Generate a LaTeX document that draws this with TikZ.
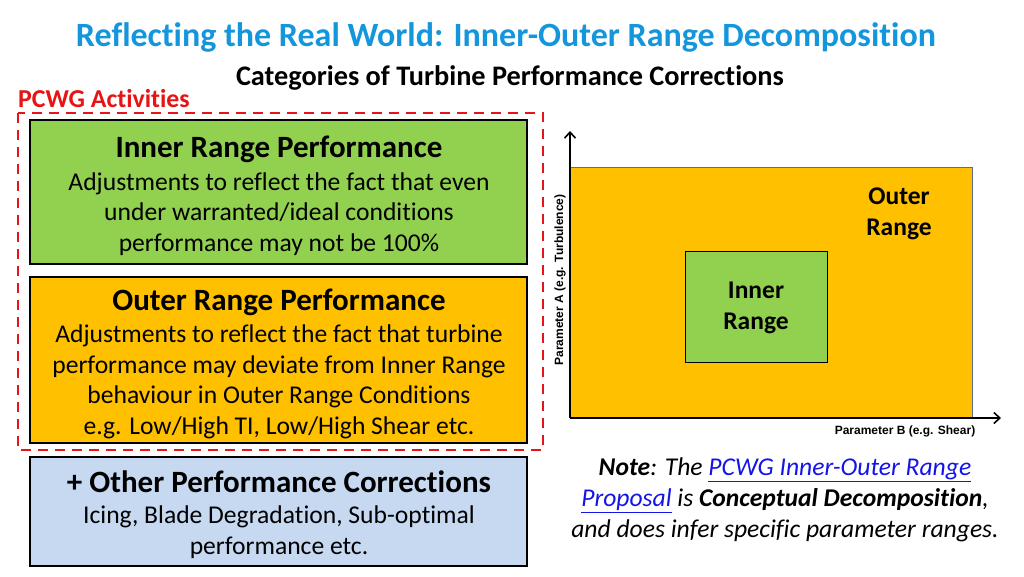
\documentclass[tikz,border=0pt]{standalone}
\usepackage{fontspec}
\setmainfont{Carlito}[Ligatures=NoCommon]
\newfontfamily\arialfont{Liberation Sans}
\usetikzlibrary{arrows.meta}
\definecolor{titleblue}{RGB}{20,150,220}
\definecolor{pcwgred}{RGB}{230,20,20}
\definecolor{boxgreen}{RGB}{146,208,80}
\definecolor{boxorange}{RGB}{255,192,0}
\definecolor{boxblue}{RGB}{198,217,241}
\definecolor{linkblue}{RGB}{20,20,230}
\definecolor{edgegrey}{RGB}{90,110,140}
\tikzset{
  catbox/.style={draw=black, line width=2pt, inner sep=0pt},
  cattitle/.style={font=\bfseries\fontsize{31}{34}\selectfont, anchor=center},
  catbody/.style={font=\fontsize{25.6}{30.5}\selectfont, align=center, anchor=center},
  axis/.style={line width=1.6pt, -{Straight Barb[length=6pt,width=11pt]}},
  rangelabel/.style={font=\bfseries\fontsize{25.5}{31}\selectfont, align=center},
  axlabel/.style={font=\arialfont\bfseries\fontsize{12}{13}\selectfont}
}
\begin{document}
\begin{tikzpicture}[x=1pt,y=-1pt]
\useasboundingbox (0,0) rectangle (1024,576);
% titles
\node[font=\bfseries\fontsize{34}{37}\selectfont, text=titleblue] (title) at (506,37) {Reflecting the Real World: Inner-Outer Range Decomposition};
\node[font=\bfseries\fontsize{28.3}{30}\selectfont] (sub) at (510,78) {Categories of Turbine Performance Corrections};
\node[font=\bfseries\fontsize{25.8}{28}\selectfont, text=pcwgred, anchor=west, inner sep=0pt] (pcwg) at (18,99) {PCWG Activities};
% dashed frame
\draw[pcwgred, line width=2.6pt, dash pattern=on 10pt off 7pt] (18,113) rectangle (543,450);
% boxes
\draw[catbox, fill=boxgreen] (30,120) rectangle (527,264);
\draw[catbox, fill=boxorange] (30,277) rectangle (527,443);
\draw[catbox, fill=boxblue] (30,457) rectangle (527,566);
\node[cattitle] (t1) at (279,149.5) {Inner Range Performance};
\node[catbody] (b1) at (279,214) {Adjustments to reflect the fact that even\\under warranted/ideal conditions\\performance may not be 100\%};
\node[cattitle] (t2) at (279,302) {Outer Range Performance};
\node[catbody] (b2) at (279,382) {Adjustments to reflect the fact that turbine\\performance may deviate from Inner Range\\behaviour in Outer Range Conditions\\e.g. Low/High TI, Low/High Shear etc.};
\node[cattitle] (t3) at (279,481.5) {+ Other Performance Corrections};
\node[catbody] (b3) at (279,532) {Icing, Blade Degradation, Sub-optimal\\performance etc.};
% chart
\fill[boxorange] (571,167) rectangle (972,418);
\draw[edgegrey, line width=0.8pt] (571,167) -- (972,167) -- (972,418);
\node[draw=black, line width=1pt, fill=boxgreen, minimum width=142pt, minimum height=111pt, inner sep=0pt] (inner) at (756,306.5) {};
\coordinate (origin) at (570,418);
\coordinate (ytop) at (570,131);
\coordinate (xend) at (1001,418);
\draw[axis] (origin) -- (ytop);
\draw[axis] (origin) -- (xend);
\node[rangelabel] (outer) at (899,213.5) {Outer\\Range};
\node[rangelabel] (innerl) at (756,308) {Inner\\Range};
\node[axlabel, rotate=90] (ya) at (560,280) {Parameter A (e.g. Turbulence)};
\node[axlabel] (xb) at (905,431) {Parameter B (e.g. Shear)};
% note
\node[font=\itshape\fontsize{25.6}{30.8}\selectfont, align=center] (note) at (785,500) {\textbf{Note}: The \textcolor{linkblue}{\underline{PCWG Inner-Outer Range}}\\\textcolor{linkblue}{\underline{Proposal}} is \textbf{Conceptual Decomposition},\\and does infer specific parameter ranges.};
\end{tikzpicture}
\end{document}
